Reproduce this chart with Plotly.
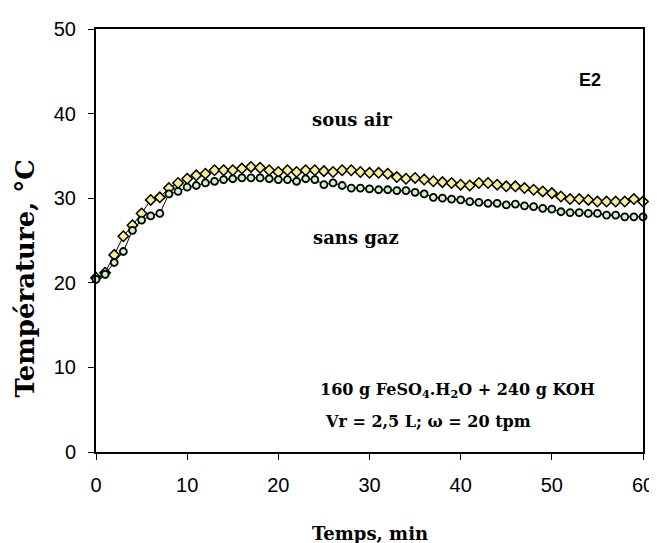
import plotly.graph_objects as go

t_min = list(range(0, 61))

sous_air = [20.6, 21.2, 23.3, 25.5, 26.8, 28.2, 29.8, 30.1, 31.2, 31.8,
            32.3, 32.7, 32.9, 33.3, 33.3, 33.3, 33.5, 33.7, 33.6, 33.3,
            33.1, 33.3, 33.1, 33.3, 33.3, 33.2, 33.1, 33.3, 33.3, 33.1,
            33.0, 33.0, 32.9, 32.5, 32.3, 32.4, 32.2, 32.0, 31.9, 31.8,
            31.6, 31.5, 31.8, 31.8, 31.6, 31.4, 31.4, 31.2, 31.0, 30.8,
            30.6, 30.2, 29.9, 29.9, 29.8, 29.6, 29.6, 29.6, 29.6, 29.9,
            29.6]

sans_gaz = [20.4, 21.0, 22.4, 23.7, 26.2, 27.4, 27.9, 28.2, 30.5, 30.8,
            31.3, 31.5, 31.8, 32.0, 32.2, 32.3, 32.4, 32.4, 32.4, 32.3,
            32.2, 32.2, 32.0, 32.3, 32.2, 31.6, 31.8, 31.5, 31.2, 31.2,
            31.1, 31.0, 31.0, 30.9, 30.9, 30.7, 30.5, 30.1, 30.0, 29.9,
            29.8, 29.6, 29.5, 29.4, 29.4, 29.2, 29.3, 29.1, 29.0, 28.8,
            28.7, 28.4, 28.3, 28.3, 28.2, 28.2, 28.0, 28.0, 27.8, 27.8,
            27.8]

x_ticks = [0, 10, 20, 30, 40, 50, 60]
y_ticks = [0, 10, 20, 30, 40, 50]

SERIF = "DejaVu Serif, Liberation Serif, serif"
SANS = "Liberation Sans, Arial, sans-serif"

fig = go.Figure()
fig.add_trace(go.Scatter(
    x=t_min, y=sous_air, mode="lines+markers", name="sous air",
    line=dict(color="black", width=1),
    marker=dict(symbol="diamond", size=8, color="#F8F08C",
                line=dict(color="black", width=1.5)),
    showlegend=False, cliponaxis=False))
fig.add_trace(go.Scatter(
    x=t_min, y=sans_gaz, mode="lines+markers", name="sans gaz",
    line=dict(color="black", width=1),
    marker=dict(symbol="circle", size=7, color="#C6F5C6",
                line=dict(color="black", width=1.8)),
    showlegend=False, cliponaxis=False))

axis_common = dict(showline=True, linecolor="black", linewidth=2, mirror=True,
                   ticks="outside", ticklen=6, tickwidth=1, tickcolor="black",
                   showgrid=False, zeroline=False, automargin=False,
                   tickfont=dict(family=SANS, size=20, color="black"))

fig.update_xaxes(range=[0, 60], tickvals=x_ticks, ticklabelstandoff=8, **axis_common)
fig.update_yaxes(range=[0, 50], tickvals=y_ticks, ticklabelstandoff=8, **axis_common)

annotations = [
    dict(x=54.2, y=44.0, xref="x", yref="y", text="<b>E2</b>", showarrow=False,
         font=dict(family=SANS, size=18, color="black")),
    dict(x=28.1, y=39.3, xref="x", yref="y", text="<b>sous air</b>", showarrow=False,
         font=dict(family=SERIF, size=18, color="black")),
    dict(x=28.5, y=25.4, xref="x", yref="y", text="<b>sans gaz</b>", showarrow=False,
         font=dict(family=SERIF, size=18, color="black")),
    dict(x=24.4, y=7.3, xref="x", yref="y", xanchor="left",
         text="<b>160 g FeSO<sub>4</sub>.H<sub>2</sub>O + 240 g KOH</b>", showarrow=False,
         font=dict(family=SERIF, size=16, color="black")),
    dict(x=24.9, y=3.6, xref="x", yref="y", xanchor="left",
         text="<b>Vr = 2,5 L; ω = 20 tpm</b>", showarrow=False,
         font=dict(family=SERIF, size=16, color="black")),
    dict(x=0.5, y=0, xref="paper", yref="paper", yshift=-81, yanchor="middle",
         text="<b>Temps, min</b>", showarrow=False,
         font=dict(family=SERIF, size=18, color="black")),
    dict(x=-0.13, y=20.6, xref="paper", yref="y", xanchor="center", yanchor="middle",
         textangle=-90, text="<b>Température, °C</b>", showarrow=False,
         font=dict(family=SERIF, size=26, color="black")),
]

fig.update_layout(
    template="none",
    width=657, height=543,
    margin=dict(l=88, r=22, t=21, b=99),
    paper_bgcolor="white", plot_bgcolor="white",
    annotations=annotations,
)

fig.write_html("out.html")
